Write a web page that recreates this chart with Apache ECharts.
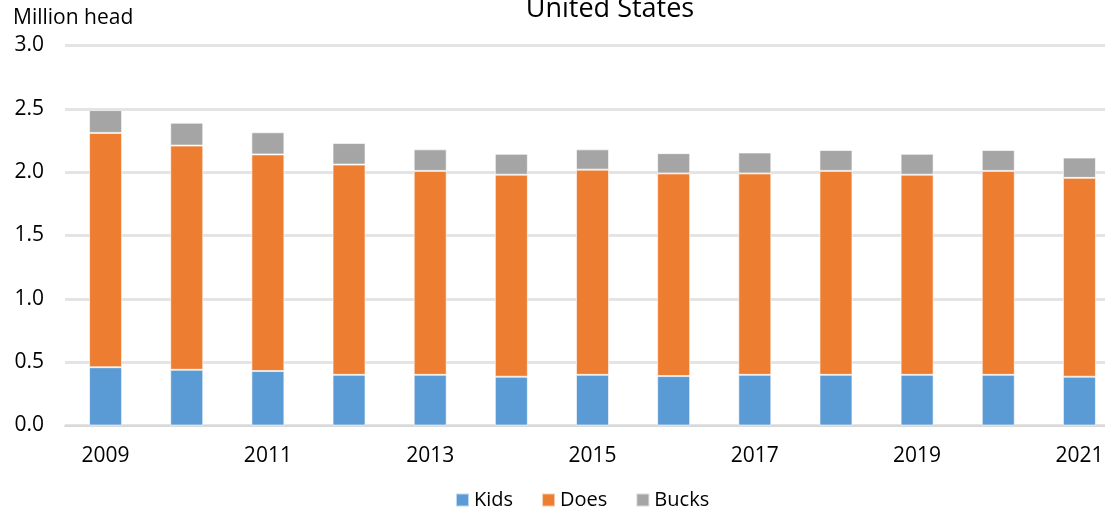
<!DOCTYPE html>
<html lang="en">
<head>
  <meta charset="UTF-8">
  <script src="https://cdn.jsdelivr.net/npm/echarts@6/dist/echarts.min.js"></script>
  <style>
    body { margin: 0; background: #fff; }
    #container { width: 1105px; height: 510px; }
  </style>
</head>
<body>
  <div id="container"></div>
  <script>
    var years = ['2009', '2010', '2011', '2012', '2013', '2014', '2015', '2016', '2017', '2018', '2019', '2020', '2021'];
    var kids = [0.46, 0.44, 0.43, 0.40, 0.40, 0.385, 0.40, 0.39, 0.40, 0.40, 0.40, 0.40, 0.385];
    var does = [1.85, 1.77, 1.71, 1.66, 1.61, 1.595, 1.62, 1.60, 1.59, 1.61, 1.58, 1.61, 1.57];
    var bucks = [0.18, 0.18, 0.175, 0.17, 0.17, 0.165, 0.16, 0.16, 0.165, 0.165, 0.165, 0.165, 0.16];
    var yTicks = [0, 0.5, 1.0, 1.5, 2.0, 2.5, 3.0];

    var font = '"Open Sans", sans-serif';
    var myChart = echarts.init(document.getElementById('container'));

    function barSeries(name, data, color) {
      return {
        name: name,
        type: 'bar',
        stack: 'total',
        data: data,
        barWidth: 33,
        itemStyle: { color: color, borderColor: 'rgba(255,255,255,0.6)', borderWidth: 1 }
      };
    }

    var option = {
      animation: false,
      title: {
        text: 'United States',
        left: 605,
        top: -9,
        textAlign: 'center',
        textStyle: { fontFamily: font, fontSize: 27, fontWeight: 'normal', color: '#000' }
      },
      legend: {
        top: 485,
        left: 450,
        itemWidth: 13,
        itemHeight: 13,
        itemGap: 28,
        icon: 'rect',
        textStyle: { fontFamily: font, fontSize: 20, color: '#000' },
        data: ['Kids', 'Does', 'Bucks']
      },
      grid: { left: 65, top: 45.5, width: 1055, height: 380, outerBoundsMode: 'none' },
      xAxis: {
        type: 'category',
        data: years,
        axisTick: { show: false },
        axisLine: { lineStyle: { color: '#d9d9d9', width: 2 } },
        axisLabel: {
          interval: 1,
          fontFamily: font,
          fontSize: 21,
          color: '#000',
          margin: 20
        }
      },
      yAxis: {
        type: 'value',
        name: 'Million head',
        nameLocation: 'end',
        nameGap: 17,
        nameTextStyle: { fontFamily: font, fontSize: 21, color: '#000', align: 'left', padding: [0, 0, 0, -52] },
        min: yTicks[0],
        max: yTicks[yTicks.length - 1],
        interval: 0.5,
        axisLine: { show: false },
        axisTick: { show: false },
        splitLine: { lineStyle: { color: '#e4e4e4', width: 3 } },
        axisLabel: {
          fontFamily: font,
          fontSize: 21,
          color: '#000',
          margin: 21,
          formatter: function (v) { return v.toFixed(1); }
        }
      },
      series: [
        barSeries('Kids', kids, '#5b9bd5'),
        barSeries('Does', does, '#ed7d31'),
        barSeries('Bucks', bucks, '#a5a5a5')
      ]
    };
    myChart.setOption(option);
  </script>
</body>
</html>
